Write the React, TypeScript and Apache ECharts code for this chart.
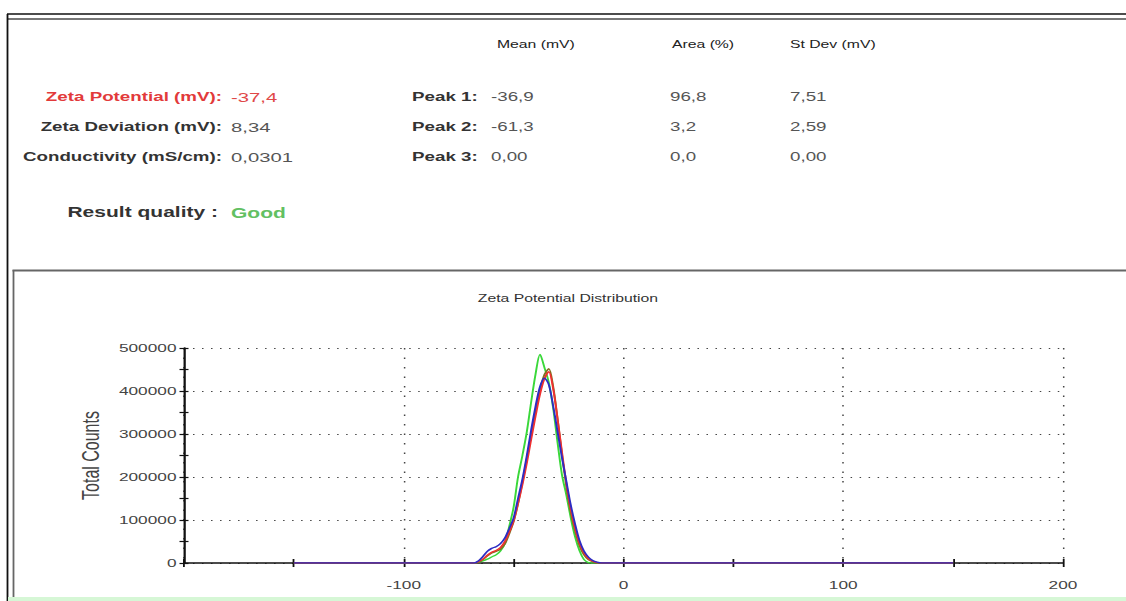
import React, { useEffect, useRef } from "react";
import * as echarts from "echarts";

// ---------- data ----------
const zetaMv = [-150, -68, -66, -64, -62, -60, -58, -56, -54, -52, -50, -48, -46, -44, -42, -40, -38, -36, -34, -32, -30, -28, -26, -24, -22, -20, -18, -16, -14, -12, -10, 150];
const greenRun = [0, 0, 2000, 5000, 9000, 14000, 19000, 28000, 45000, 85000, 130000, 200000, 250000, 305000, 375000, 440000, 485000, 455000, 420000, 360000, 280000, 205000, 158000, 105000, 60000, 28000, 8000, 1000, 0, 0, 0, 0];
const oliveRun = [0, 0, 2000, 8000, 16000, 23000, 27000, 32000, 44000, 68000, 96000, 138000, 188000, 242000, 298000, 352000, 402000, 438000, 452000, 410000, 335000, 252000, 178000, 118000, 74000, 40000, 19000, 8000, 3000, 0, 0, 0];
const redRun = [0, 0, 3000, 9000, 18000, 25000, 29000, 36000, 50000, 72000, 98000, 138000, 182000, 232000, 288000, 342000, 392000, 428000, 445000, 405000, 335000, 258000, 185000, 125000, 80000, 46000, 24000, 11000, 4000, 1000, 0, 0];
const blueRun = [0, 0, 5000, 15000, 27000, 34000, 38000, 45000, 58000, 80000, 105000, 150000, 195000, 250000, 310000, 365000, 410000, 430000, 415000, 365000, 305000, 245000, 190000, 135000, 90000, 52000, 28000, 14000, 6000, 2000, 0, 0];

const summaryLabels = ["Zeta Potential (mV):", "Zeta Deviation (mV):", "Conductivity (mS/cm):"];
const summaryValues = ["-37,4", "8,34", "0,0301"];
const peakHeaders = ["Mean (mV)", "Area (%)", "St Dev (mV)"];
const peakLabels = ["Peak 1:", "Peak 2:", "Peak 3:"];
const peakMeans = ["-36,9", "-61,3", "0,00"];
const peakAreas = ["96,8", "3,2", "0,0"];
const peakStDevs = ["7,51", "2,59", "0,00"];
const qualityLabel = "Result quality :";
const qualityValue = "Good";
const chartTitle = "Zeta Potential Distribution";
const yAxisName = "Total Counts";

// ---------- layout ----------
const W = 750;
const H = 601;
const S = 1126 / W; // horizontal stretch of the whole picture
const px = (x: number) => x / S;
const FONT = '"Liberation Sans", Arial, sans-serif';

function txt(text: string, x: number, y: number, o: any = {}) {
  return {
    type: "text",
    x: px(x),
    y,
    silent: true,
    style: {
      text,
      fill: o.fill || "#555",
      fontSize: o.size || 12.5,
      fontWeight: o.weight || "normal",
      fontFamily: FONT,
      align: o.align || "left",
      verticalAlign: "middle",
    },
  };
}

function hline(x1: number, x2: number, y: number, color: string, w: number) {
  return { type: "line", silent: true, shape: { x1: px(x1), y1: y, x2: px(x2), y2: y }, style: { stroke: color, lineWidth: w } };
}
function vline(x: number, y1: number, y2: number, color: string, w: number) {
  return { type: "line", silent: true, shape: { x1: px(x), y1, x2: px(x), y2 }, style: { stroke: color, lineWidth: w } };
}

export default function App() {
  const ref = useRef<HTMLDivElement>(null);

  useEffect(() => {
    if (!ref.current) return;
    const chart = echarts.init(ref.current, null, { renderer: "svg", width: W, height: H });

    const rowsY = [97, 127, 157];
    const graphics: any[] = [];
    // frames
    graphics.push(hline(7, 1126, 14, "#111", 1.6));
    graphics.push(hline(7, 1126, 19, "#777", 2));
    graphics.push(vline(7.5, 14, 601, "#111", 1.2));
    graphics.push(hline(12.5, 1126, 270.5, "#666", 2));
    graphics.push(vline(13.5, 270, 601, "#666", 1.2));
    graphics.push({ type: "rect", silent: true, shape: { x: px(8), y: 597, width: px(1118), height: 4 }, style: { fill: "#d6f7d6" } });

    // summary
    summaryLabels.forEach((t, i) => {
      const red = i === 0;
      graphics.push(txt(t, 222, rowsY[i], { align: "right", weight: "bold", fill: red ? "#e23a3a" : "#333", size: 12.5 }));
      graphics.push(txt(summaryValues[i], 231, rowsY[i], { fill: red ? "#e04848" : "#555", size: 13.5 }));
    });
    graphics.push(txt(qualityLabel, 218, 212, { align: "right", weight: "bold", fill: "#333", size: 14 }));
    graphics.push(txt(qualityValue, 231, 213, { weight: "bold", fill: "#62c062", size: 14 }));

    // peaks table
    const colX = [497, 672, 790];
    peakHeaders.forEach((t, i) => graphics.push(txt(t, colX[i], 44, { weight: "normal", fill: "#222", size: 10.5 })));
    peakLabels.forEach((t, i) => {
      graphics.push(txt(t, 412, rowsY[i], { weight: "bold", fill: "#333", size: 12.5 }));
      graphics.push(txt(peakMeans[i], 491, rowsY[i], { size: 12.5 }));
      graphics.push(txt(peakAreas[i], 670, rowsY[i], { size: 12.5 }));
      graphics.push(txt(peakStDevs[i], 790, rowsY[i], { size: 12.5 }));
    });

    // chart title
    graphics.push(txt(chartTitle, 568, 298, { align: "center", fill: "#333", size: 10.5 }));

    const mk = (vals: number[]) => zetaMv.map((x, i) => [x, vals[i]]);
    const seriesDefs = [
      { name: "Run 1", color: "#3ad83a", vals: greenRun },
      { name: "Run 2", color: "#807020", vals: oliveRun },
      { name: "Run 3", color: "#f03030", vals: redRun },
      { name: "Run 4", color: "#2c2cc4", vals: blueRun },
    ];

    const axisColor = "#111";
    const grid = { left: px(184), right: W - px(1063), top: 348, bottom: H - 563 };

    chart.setOption({
      animation: false,
      backgroundColor: "#ffffff",
      grid,
      xAxis: [
        {
          type: "value", min: -200, max: 200, interval: 100, position: "bottom",
          axisLine: { show: true, onZero: false, lineStyle: { color: axisColor, width: 1.5 } },
          axisTick: { show: false },
          axisLabel: { formatter: (v: number) => (v === -200 ? "" : String(v)), fontSize: 11.5, color: "#444", margin: 16, fontFamily: FONT },
          splitLine: { show: true, lineStyle: { type: [1.5, 8], color: "#444", width: 1 } },
        },
        {
          type: "value", min: -200, max: 200, interval: 50, position: "bottom", offset: 0,
          axisLine: { show: false, onZero: false },
          axisTick: { show: true, length: 4, lineStyle: { color: axisColor, width: 1.2 } },
          axisLabel: { show: false }, splitLine: { show: false },
        },
        {
          type: "value", min: -200, max: 200, interval: 50, position: "bottom", offset: 0,
          axisLine: { show: false, onZero: false },
          axisTick: { show: true, inside: true, length: 4, lineStyle: { color: axisColor, width: 1.2 } },
          axisLabel: { show: false }, splitLine: { show: false },
        },
      ],
      yAxis: [
        {
          type: "value", min: 0, max: 500000, interval: 100000, position: "left",
          axisLine: { show: true, onZero: false, lineStyle: { color: axisColor, width: 1.5 } },
          axisTick: { show: true, length: 3, lineStyle: { color: axisColor, width: 1.2 } },
          minorTick: { show: true, splitNumber: 2, length: 3, lineStyle: { color: axisColor, width: 1.2 } },
          axisLabel: { fontSize: 11.5, color: "#444", margin: 5, fontFamily: FONT, formatter: (v: number) => String(v) },
          splitLine: { show: true, lineStyle: { type: [1, 5], color: "#444", width: 1 } },
          name: yAxisName, nameLocation: "middle", nameGap: 45, nameRotate: 90,
          nameTextStyle: { fontSize: 16, color: "#444", fontFamily: FONT },
        },
        {
          type: "value", min: 0, max: 500000, interval: 100000, position: "left", offset: 0,
          axisLine: { show: false, onZero: false },
          axisTick: { show: true, inside: true, length: 3, lineStyle: { color: axisColor, width: 1.2 } },
          minorTick: { show: true, splitNumber: 2, length: 3, lineStyle: { color: axisColor, width: 1.2 } },
          axisLabel: { show: false }, splitLine: { show: false },
        },
      ],
      series: seriesDefs.map((s) => ({
        name: s.name,
        type: "line",
        xAxisIndex: 0,
        yAxisIndex: 0,
        data: mk(s.vals),
        symbol: "none",
        smooth: 0.3,
        lineStyle: { color: s.color, width: 1.3 },
        itemStyle: { color: s.color },
      })),
      graphic: graphics,
    });

    return () => chart.dispose();
  }, []);

  return (
    <div
      ref={ref}
      style={{
        position: "absolute",
        left: 0,
        top: 0,
        width: W,
        height: H,
        transform: `scaleX(${S})`,
        transformOrigin: "0 0",
        background: "#fff",
      }}
    />
  );
}
